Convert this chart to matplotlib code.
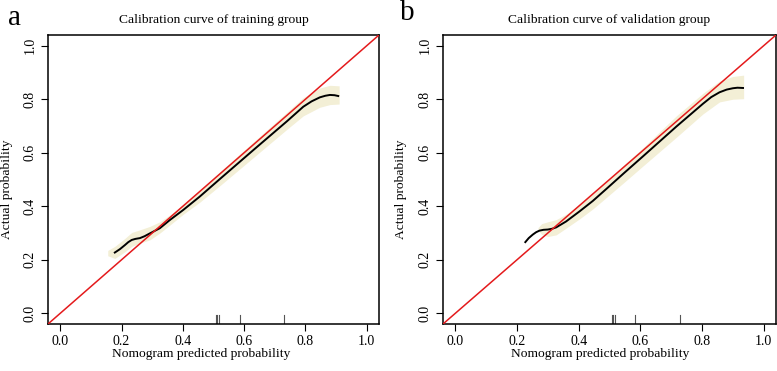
#!/usr/bin/env python3
"""
Calibration curves of the nomogram, training and validation groups
"""
import matplotlib
matplotlib.use('Agg')
import matplotlib.pyplot as plt

plt.rcParams['font.family'] = ['Liberation Serif', 'DejaVu Serif']

# training group: smoothed calibration curve and its confidence band
train_x = [0.178, 0.195, 0.211, 0.222, 0.233, 0.245, 0.260, 0.275, 0.293, 0.325, 0.358, 0.401,
           0.455, 0.522, 0.630, 0.740, 0.793, 0.820, 0.847, 0.865, 0.880, 0.895, 0.907]
train_y = [0.227, 0.240, 0.255, 0.266, 0.274, 0.278, 0.281, 0.288, 0.299, 0.318, 0.349, 0.386,
           0.436, 0.503, 0.610, 0.718, 0.772, 0.792, 0.807, 0.813, 0.816, 0.815, 0.812]
train_band_x = [0.155, 0.178, 0.211, 0.233, 0.260, 0.293, 0.325, 0.358, 0.401, 0.455, 0.522, 0.630, 0.740, 0.793, 0.847, 0.880, 0.910]
train_lo = [0.215, 0.205, 0.230, 0.250, 0.262, 0.275, 0.300, 0.330, 0.370, 0.415, 0.478, 0.582, 0.688, 0.738, 0.770, 0.780, 0.782]
train_hi = [0.235, 0.250, 0.280, 0.302, 0.312, 0.325, 0.342, 0.368, 0.405, 0.460, 0.530, 0.640, 0.752, 0.806, 0.842, 0.852, 0.850]
train_rug = [0.507, 0.511, 0.517, 0.585, 0.730]

# validation group
valid_x = [0.227, 0.238, 0.251, 0.262, 0.273, 0.286, 0.300, 0.314, 0.327, 0.359, 0.403, 0.446,
           0.490, 0.550, 0.608, 0.717, 0.803, 0.830, 0.857, 0.880, 0.900, 0.915, 0.933]
valid_y = [0.266, 0.281, 0.294, 0.303, 0.309, 0.312, 0.313, 0.316, 0.321, 0.343, 0.381, 0.420,
           0.465, 0.527, 0.586, 0.698, 0.783, 0.808, 0.826, 0.836, 0.841, 0.843, 0.842]
valid_band_x = [0.268, 0.280, 0.300, 0.327, 0.359, 0.403, 0.446, 0.490, 0.550, 0.608, 0.717, 0.803, 0.857, 0.900, 0.935]
valid_lo = [0.310, 0.295, 0.287, 0.293, 0.318, 0.353, 0.390, 0.433, 0.492, 0.550, 0.658, 0.745, 0.790, 0.800, 0.802]
valid_hi = [0.320, 0.335, 0.342, 0.350, 0.370, 0.407, 0.447, 0.492, 0.558, 0.618, 0.738, 0.822, 0.868, 0.885, 0.890]
valid_rug = [0.507, 0.512, 0.517, 0.583, 0.730]

TICKS = [0.0, 0.2, 0.4, 0.6, 0.8, 1.0]
BAND = '#f3efd6'

fig = plt.figure(figsize=(7.77, 3.71), dpi=100)
ax_a = fig.add_axes([48 / 777, 1 - 324 / 371, 331 / 777, 289 / 371])
ax_b = fig.add_axes([443 / 777, 1 - 324 / 371, 333 / 777, 289 / 371])

panels = [
    (ax_a, 'a', 'Calibration curve of training group', train_x, train_y,
     train_band_x, train_lo, train_hi, train_rug, 0.464, 8 / 777, 25),
    (ax_b, 'b', 'Calibration curve of validation group', valid_x, valid_y,
     valid_band_x, valid_lo, valid_hi, valid_rug, 0.473, 400 / 777, 20),
]

for ax, letter, title, x, y, bx, lo, hi, rug, xlab_x, let_x, let_base in panels:
    ax.set_xlim(-0.04, 1.04)
    ax.set_ylim(-0.04, 1.04)
    ax.fill_between(bx, lo, hi, color=BAND, linewidth=0, zorder=1)
    ax.plot(x, y, color='black', linewidth=1.4, zorder=3)
    ax.plot([-0.04, 1.04], [-0.04, 1.04], color='#e41a1c', linewidth=1.1, zorder=4)
    # rug of predicted probabilities
    for r in rug:
        ax.axvline(r, ymin=0, ymax=0.032, color='#555555', linewidth=0.8)

    ax.set_xticks(TICKS)
    ax.set_yticks(TICKS)
    ax.set_xticklabels([f'{t:.1f}' for t in TICKS])
    ax.set_yticklabels([f'{t:.1f}' for t in TICKS])
    ax.tick_params(direction='out', length=5, width=0.8, pad=3, labelsize=10)
    ax.tick_params(axis='y', labelrotation=90)
    for lbl in ax.get_yticklabels():
        lbl.set_va('center')
    for sp in ax.spines.values():
        sp.set_linewidth(1.1)

    ax.set_title(title, fontsize=9.7, pad=8.6)
    ax.set_xlabel('Nomogram predicted probability', fontsize=9.7)
    ax.xaxis.set_label_coords(xlab_x, -0.083)
    ax.set_ylabel('Actual probability', fontsize=9.7)
    ax.yaxis.set_label_coords(-0.107, 0.467)

    fig.text(let_x, 1 - let_base / 371, letter, fontsize=21, va='baseline', ha='left')

fig.savefig('out.png', dpi=100)
plt.close(fig)
